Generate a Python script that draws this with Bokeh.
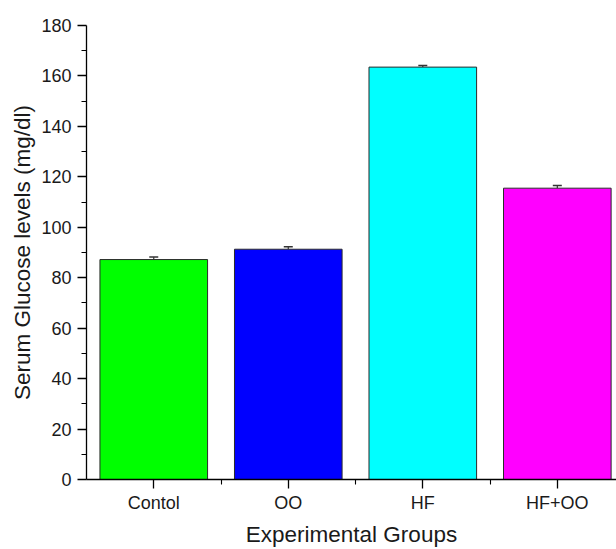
from bokeh.plotting import figure
from bokeh.models import ColumnDataSource, FixedTicker, Range1d, Whisker, TeeHead
from bokeh.embed import file_html
from bokeh.resources import INLINE

groups = ["Contol", "OO", "HF", "HF+OO"]
positions = [1, 2, 3, 4]
means = [87.2, 91.3, 163.5, 115.5]
errors = [1.0, 1.0, 0.6, 1.1]
colors = ["#00FF00", "#0000FF", "#00FFFF", "#FF00FF"]
y_ticks = [0, 20, 40, 60, 80, 100, 120, 140, 160, 180]
y_minor = [10, 30, 50, 70, 90, 110, 130, 150, 170]
x_minor = [1.5, 2.5, 3.5]

upper = [m + e for m, e in zip(means, errors)]
src = ColumnDataSource(dict(x=positions, top=means, upper=upper, color=colors))

FONT = "Liberation Sans"

p = figure(width=616, height=549, output_backend="svg", toolbar_location=None,
           x_range=Range1d(0.5, 4.44), y_range=Range1d(0, 180),
           min_border_left=86, min_border_right=0, min_border_top=25,
           min_border_bottom=70)
p.outline_line_color = None
p.xgrid.visible = False
p.ygrid.visible = False
p.background_fill_color = "white"
p.border_fill_color = "white"

p.vbar(x="x", top="top", bottom=0, width=0.8, source=src, fill_color="color",
       line_color="#2b2b2b", line_width=1)

w = Whisker(base="x", upper="upper", lower="top", source=src, dimension="height",
            line_color="#333333", line_width=1.2,
            upper_head=TeeHead(size=9, line_color="#333333", line_width=1.5),
            lower_head=None)
p.add_layout(w)

# x axis
p.xaxis.ticker = FixedTicker(ticks=positions, minor_ticks=x_minor)
p.xaxis.major_label_overrides = {pos: g for pos, g in zip(positions, groups)}
p.xaxis.axis_label = "Experimental Groups"

# y axis
p.yaxis.ticker = FixedTicker(ticks=y_ticks, minor_ticks=y_minor)
p.yaxis.axis_label = "Serum Glucose levels (mg/dl)"

for ax in (p.xaxis[0], p.yaxis[0]):
    ax.axis_line_color = "black"
    ax.axis_line_width = 1.3
    ax.major_tick_line_color = "black"
    ax.minor_tick_line_color = "black"
    ax.major_tick_line_width = 1.3
    ax.minor_tick_line_width = 1.1
    ax.major_tick_out = 9
    ax.major_tick_in = 0
    ax.minor_tick_out = 5
    ax.minor_tick_in = 0
    ax.major_label_text_font = FONT
    ax.major_label_text_font_size = "18px"
    ax.major_label_text_color = "#1a1a1a"
    ax.axis_label_text_font = FONT
    ax.axis_label_text_font_size = "22.5px"
    ax.axis_label_text_font_style = "normal"
    ax.axis_label_text_color = "#1a1a1a"

p.xaxis.major_label_standoff = 4
p.xaxis.axis_label_standoff = 6
p.yaxis.major_label_standoff = 6
p.yaxis.axis_label_standoff = 3

open("out.html", "w").write(file_html(p, INLINE))
